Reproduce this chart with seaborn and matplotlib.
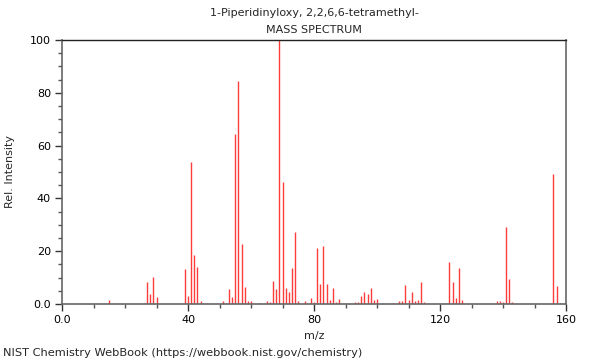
import matplotlib
matplotlib.use("Agg")
import matplotlib.pyplot as plt
import seaborn as sns
import pandas as pd
from matplotlib.ticker import MultipleLocator, FixedLocator

mz = [15, 26, 27, 28, 29, 30, 39, 40, 41, 42, 43, 44, 46, 51, 52, 53, 54, 55, 56, 57, 58,
      59, 60, 63, 65, 66, 67, 68, 69, 70, 71, 72, 73, 74, 75, 77, 79, 80, 81, 82, 83, 84,
      85, 86, 87, 88, 91, 93, 94, 95, 96, 97, 98, 99, 100, 105, 106, 107, 108, 109, 110,
      111, 112, 113, 114, 115, 122, 123, 124, 125, 126, 127, 138, 139, 140, 141, 142, 143,
      156, 157, 158]
intensity = [1.5, 0.5, 8.3, 3.8, 10.4, 2.8, 13.4, 3.2, 53.8, 18.4, 14.0, 1.1, 0.4, 1.0, 0.5,
             5.7, 2.7, 64.4, 84.3, 22.7, 6.4, 1.0, 1.0, 0.4, 1.0, 0.8, 8.8, 5.6, 100.0, 46.3,
             6.2, 4.5, 13.6, 27.4, 1.0, 1.0, 2.3, 0.8, 21.2, 7.4, 21.8, 7.6, 1.6, 5.9, 0.8,
             2.0, 0.4, 0.6, 0.6, 2.9, 4.4, 3.7, 6.0, 1.4, 1.8, 0.4, 0.5, 1.0, 1.0, 7.1, 1.5,
             4.5, 1.0, 1.5, 8.5, 0.6, 0.5, 15.9, 8.3, 2.3, 13.8, 1.5, 1.0, 1.0, 0.6, 29.0,
             9.3, 0.7, 49.2, 6.7, 0.4]

title_lines = ["1-Piperidinyloxy, 2,2,6,6-tetramethyl-", "MASS SPECTRUM"]
x_ticks = [0, 40, 80, 120, 160]
x_labels = ["0.0", "40", "80", "120", "160"]
y_ticks = [0, 20, 40, 60, 80, 100]
y_labels = ["0.0", "20", "40", "60", "80", "100"]

df = pd.DataFrame({"mz": mz, "intensity": intensity})

sns.set_theme(style="ticks")
plt.rcParams["font.family"] = ["DejaVu Sans"]

fig = plt.figure(figsize=(6, 3.6), dpi=100)
ax = fig.add_axes([62 / 600, 56 / 360, 504 / 600, 264 / 360])

ax.vlines(df["mz"], 0, df["intensity"], colors="#ff3c3c", linewidth=1.0)

ax.set_xlim(0, 160)
ax.set_ylim(0, 100)
ax.xaxis.set_major_locator(FixedLocator(x_ticks))
ax.set_xticklabels(x_labels)
ax.xaxis.set_minor_locator(MultipleLocator(10))
ax.yaxis.set_major_locator(FixedLocator(y_ticks))
ax.set_yticklabels(y_labels)
ax.yaxis.set_minor_locator(MultipleLocator(5))

ax.tick_params(axis="both", which="major", length=5, width=1, color="#333333",
               labelsize=8, labelcolor="black", pad=3, direction="out")
ax.tick_params(axis="both", which="minor", length=3, width=1, color="#555555", direction="out")

for side in ["left", "bottom", "right"]:
    ax.spines[side].set_color("#666666")
    ax.spines[side].set_linewidth(1.2)
    ax.spines[side].set_visible(True)
ax.spines["top"].set_visible(True)
ax.spines["top"].set_color("#222222")
ax.spines["top"].set_linewidth(1.0)

ax.set_xlabel("m/z", fontsize=8, labelpad=4)
ax.set_ylabel("Rel. Intensity", fontsize=8, labelpad=11)

fig.text(314 / 600, 1 - 13 / 360, title_lines[0], ha="center", va="center", fontsize=8)
fig.text(314 / 600, 1 - 30 / 360, title_lines[1], ha="center", va="center", fontsize=8)
fig.text(3 / 600, 1 - 353 / 360, "NIST Chemistry WebBook (https://webbook.nist.gov/chemistry)",
         ha="left", va="center", fontsize=8.2)

fig.savefig("out.png", dpi=100)
